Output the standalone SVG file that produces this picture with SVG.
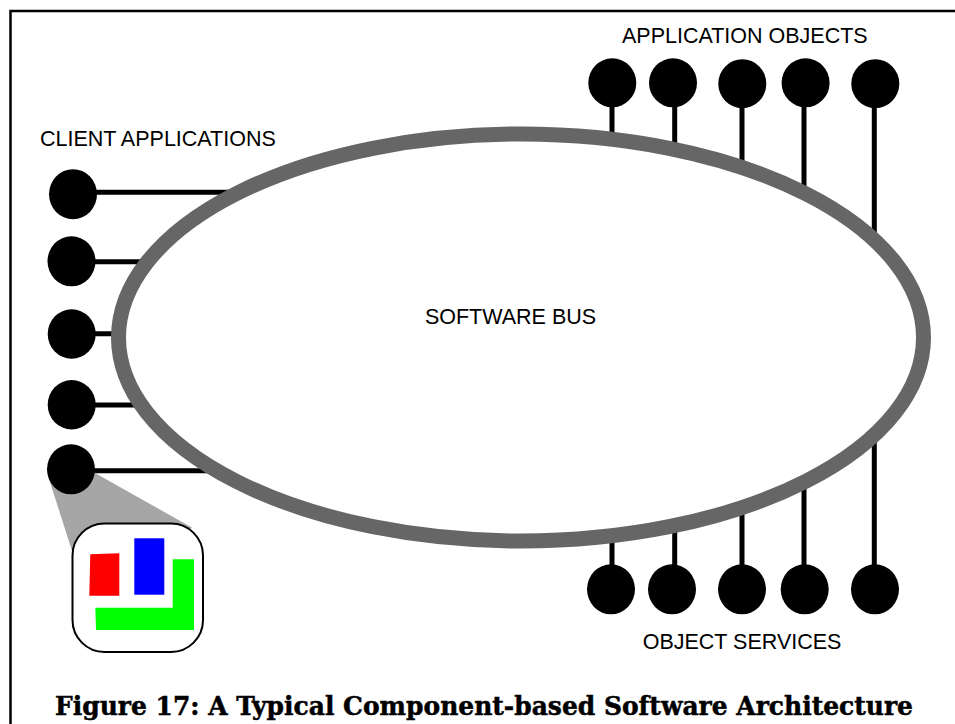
<svg xmlns="http://www.w3.org/2000/svg" width="955" height="724" viewBox="0 0 955 724">
<style>
.c{fill:#000}
.l{stroke:#000;stroke-width:5;fill:none}
.t{font-family:"Liberation Sans",Arial,sans-serif;font-size:21.500px;fill:#000}
.cap{font-family:"DejaVu Serif",serif;font-weight:bold;font-size:25.500px;fill:#000;stroke:#000;stroke-width:.5}
</style>
<rect width="955" height="724" fill="#fff"/>
<path d="M10.500 724V11H955" fill="none" stroke="#000" stroke-width="2.500"/>
<g id="connectors">
<path class="l" d="M73 192.300H240M71 261.700H150M71 333.700H125M71 405H150M71 470.700H220M612 83V150M674.700 83V150M742 83V170M804 83V200M874.300 83V240M612 590V530M674.700 590V520M742 590V510M804 590V480M874.300 590V430"/>
</g>
<g id="bus"><ellipse cx="521" cy="337.500" rx="402.500" ry="203.500" fill="#fff" stroke="#666" stroke-width="15"/><text class="t" x="510.500" y="324" text-anchor="middle">SOFTWARE BUS</text></g>
<g id="client-1"><ellipse class="c" cx="73" cy="194.200" rx="24" ry="25"/></g>
<g id="client-2"><ellipse class="c" cx="71.500" cy="261.300" rx="24" ry="25"/></g>
<g id="client-3"><ellipse class="c" cx="71.700" cy="334" rx="24" ry="24.700"/></g>
<g id="client-4"><ellipse class="c" cx="71.700" cy="404.700" rx="24" ry="24.700"/></g>
<g id="client-5"><path d="M48.300 476.700L71.700 550L192.700 528L95 473Z" fill="#a6a6a6"/><ellipse class="c" cx="71" cy="469.300" rx="24" ry="25"/></g>
<g id="app-1"><ellipse class="c" cx="612.300" cy="82.800" rx="24" ry="24.500"/></g>
<g id="app-2"><ellipse class="c" cx="673" cy="82.800" rx="24" ry="24.500"/></g>
<g id="app-3"><ellipse class="c" cx="742.300" cy="83.700" rx="24" ry="24.500"/></g>
<g id="app-4"><ellipse class="c" cx="805.600" cy="82.800" rx="24" ry="24.500"/></g>
<g id="app-5"><ellipse class="c" cx="875.300" cy="83.700" rx="24" ry="24.500"/></g>
<g id="svc-1"><ellipse class="c" cx="611" cy="589.300" rx="24" ry="25"/></g>
<g id="svc-2"><ellipse class="c" cx="672" cy="589.300" rx="24" ry="25"/></g>
<g id="svc-3"><ellipse class="c" cx="742" cy="589.300" rx="24" ry="25"/></g>
<g id="svc-4"><ellipse class="c" cx="804.700" cy="589.300" rx="24" ry="25"/></g>
<g id="svc-5"><ellipse class="c" cx="875" cy="589.300" rx="24" ry="25"/></g>
<g id="component">
<rect x="72.500" y="523.500" width="130.500" height="128.500" rx="32" fill="#fff" stroke="#000" stroke-width="2"/>
<path d="M90.300 554.300L119.300 553.300V595.700H89.300Z" fill="#f00"/>
<rect x="134.300" y="538.300" width="30" height="56.400" fill="#00f"/>
<path d="M172.700 559.300H194V630H96L95.300 607.700H172.700Z" fill="#0f0"/>
</g>
<text class="t" x="40" y="145.700">CLIENT APPLICATIONS</text>
<text class="t" x="622" y="43">APPLICATION OBJECTS</text>
<text class="t" x="642.700" y="649">OBJECT SERVICES</text>
<text class="cap" x="55" y="714.500" textLength="858" lengthAdjust="spacingAndGlyphs">Figure 17: A Typical Component-based Software Architecture</text>
</svg>
